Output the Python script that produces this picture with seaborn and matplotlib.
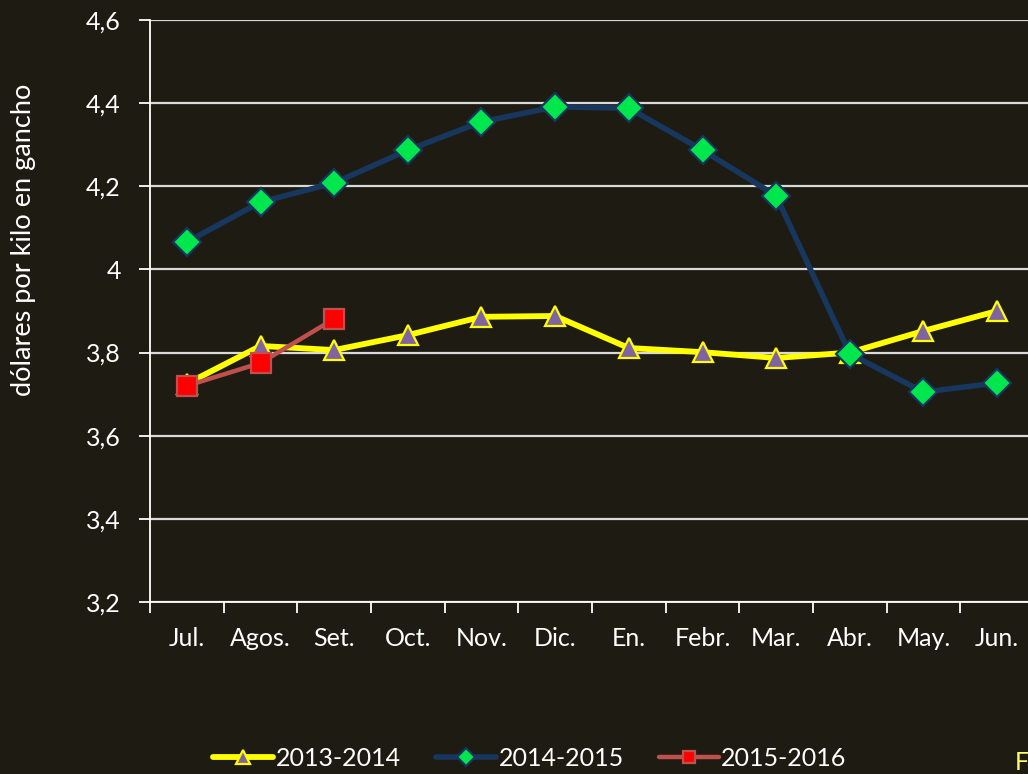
import matplotlib
matplotlib.use("Agg")
import matplotlib.pyplot as plt
import numpy as np
import pandas as pd
import seaborn as sns

months = ["Jul.", "Agos.", "Set.", "Oct.", "Nov.", "Dic.", "En.", "Febr.", "Mar.", "Abr.", "May.", "Jun."]
s2013_2014 = [3.725, 3.816, 3.806, 3.842, 3.886, 3.888, 3.811, 3.801, 3.787, 3.800, 3.852, 3.900]
s2014_2015 = [4.066, 4.162, 4.208, 4.287, 4.355, 4.391, 4.388, 4.287, 4.177, 3.797, 3.705, 3.727]
s2015_2016 = [3.720, 3.775, 3.881]
y_ticks = [3.2, 3.4, 3.6, 3.8, 4.0, 4.2, 4.4, 4.6]
y_labels = ["3,2", "3,4", "3,6", "3,8", "4", "4,2", "4,4", "4,6"]

BG = "#1e1b12"

sns.set_theme(style="dark")
plt.rcParams["font.family"] = ["Lato", "DejaVu Sans"]

fig = plt.figure(figsize=(10.28, 7.74), dpi=100, facecolor=BG)
ax = fig.add_axes([150 / 1028, 1 - 602 / 774, 884 / 1028, 582 / 774])
ax.set_facecolor(BG)

series = [
    ("2013-2014", s2013_2014, dict(color="#ffff00", lw=4.2, marker="^", ms=15,
                                  mfc="#8064a2", mec="#ffff00", mew=1.6)),
    ("2014-2015", s2014_2015, dict(color="#17375e", lw=4.0, marker="D", ms=14,
                                  mfc="#00e64d", mec="#17375e", mew=1.6)),
    ("2015-2016", s2015_2016, dict(color="#c0504d", lw=3.2, marker="s", ms=14,
                                  mfc="#ff0000", mec="#c0504d", mew=1.6)),
]

for i, (name, vals, st) in enumerate(series):
    df = pd.DataFrame({"x": np.arange(len(vals)), "y": vals})
    sns.lineplot(data=df, x="x", y="y", ax=ax, label=name, color=st["color"],
                 linewidth=st["lw"], marker=st["marker"], markersize=st["ms"],
                 markerfacecolor=st["mfc"], markeredgecolor=st["mec"],
                 markeredgewidth=st["mew"], zorder=3 + i)

ax.set_xlim(-0.5, 11.5)
ax.set_ylim(3.2, 4.6)
ax.set_yticks(y_ticks)
ax.set_yticklabels(y_labels)
ax.yaxis.grid(True, color="#d9d9d9", linewidth=1.6)
ax.xaxis.grid(False)

# tick marks between categories, labels at category centres
ax.set_xticks(np.arange(-0.5, 12, 1))
ax.set_xticklabels([])
ax.set_xticks(np.arange(12), minor=True)
ax.set_xticklabels(months, minor=True)
ax.tick_params(axis="x", which="major", direction="out", length=8, width=1.3,
               color="white", bottom=True)
ax.tick_params(axis="x", which="minor", length=0, pad=18, labelsize=18,
               labelcolor="white")
ax.tick_params(axis="y", direction="out", length=8, width=1.3, color="white",
               left=True, labelsize=18, labelcolor="white", pad=13)

for side in ["top", "right"]:
    ax.spines[side].set_visible(False)
for side in ["left", "bottom"]:
    ax.spines[side].set_visible(True)
    ax.spines[side].set_color("white")
    ax.spines[side].set_linewidth(1.3)

ax.set_xlabel("")
ax.set_ylabel("")
fig.text(24 / 1028, 1 - 240 / 774, "dólares por kilo en gancho", rotation=90,
         ha="center", va="center", color="white", fontsize=19.5)

ax.get_legend().remove()
handles, labels = ax.get_legend_handles_labels()
leg = fig.legend(handles, labels, loc="center", ncol=3,
                 bbox_to_anchor=(530 / 1028, 1 - 758 / 774), frameon=False,
                 fontsize=18, handlelength=2.4, handletextpad=0.1,
                 columnspacing=1.4, markerscale=0.65)
for t in leg.get_texts():
    t.set_color("white")

fig.text(1015 / 1028, 1 - 762 / 774, "Fuente", ha="left", va="center",
         color="#ffff66", fontsize=18)

fig.savefig("out.png", dpi=100, facecolor=BG)
